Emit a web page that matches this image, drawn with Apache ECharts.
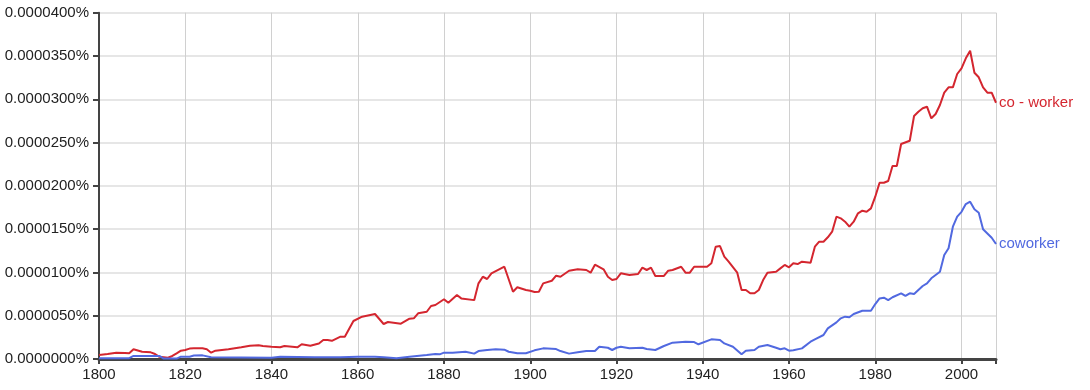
<!DOCTYPE html>
<html><head><meta charset="utf-8">
<script src="https://cdn.jsdelivr.net/npm/echarts@6/dist/echarts.min.js"></script>
<style>html,body{margin:0;padding:0;background:#fff}#c{width:1090px;height:390px}</style>
</head><body><div id="c"></div>
<script>
// values in units of 0.0000001 %
const coDashYears = [1800,1802,1804,1806,1807,1808,1810,1812,1813,1814,1816,1817,1818,1819,1820,1821,1822,1824,1825,1826,1827,1830,1833,1835,1837,1838,1840,1842,1843,1846,1847,1849,1851,1852,1853,1854,1856,1857,1859,1861,1864,1866,1867,1870,1872,1873,1874,1876,1877,1878,1880,1881,1883,1884,1887,1888,1889,1890,1891,1894,1896,1897,1899,1900,1901,1902,1903,1905,1906,1907,1909,1911,1913,1914,1915,1917,1918,1919,1920,1921,1923,1925,1926,1927,1928,1929,1931,1932,1933,1935,1936,1937,1938,1941,1942,1943,1944,1945,1946,1948,1949,1950,1951,1952,1953,1954,1955,1957,1958,1959,1960,1961,1962,1963,1965,1966,1967,1968,1969,1970,1971,1972,1973,1974,1975,1976,1977,1978,1979,1980,1981,1982,1983,1984,1985,1986,1988,1989,1990,1991,1992,1993,1994,1995,1996,1997,1998,1999,2000,2001,2002,2003,2004,2005,2006,2007,2008];
const coDashValues = [4.6,5.8,7.3,7,6.6,11.2,8.4,7.7,5.8,2.5,1.5,3.5,6.5,9.6,10.4,12,12.3,12.3,11.2,7.3,9.6,11.2,13.5,15.4,15.8,15,14.2,13.5,15,13.5,17,15.4,18,22,22,21,25.8,25.8,43.9,48.9,52,40.4,42.7,40.8,46.6,47,52.8,54.6,61.2,62.4,69,65,73.9,70,68,87.4,95,92.4,99,106.6,77.7,82.8,79.7,78.9,77.4,77.7,87.4,90.4,96.2,95,102,103.6,102.8,99.7,108.9,103.6,95,91.2,92.4,99,97,98.2,105.5,102.8,105.5,95.9,95.9,102,102.8,106.6,99.7,99.7,106.6,106.6,110.5,129.7,130.5,118.2,112.4,99.7,79.7,79.7,75.9,75.9,79.7,91.2,99.7,100.8,104.7,108.6,105.9,110.5,109.7,112.4,111.2,129.7,135.5,135.5,140.6,147,164.4,162.5,158.6,152.8,158.6,168.3,171.3,170.1,174,187.5,203.6,203.6,205.6,222.9,222.9,248.3,252.1,280.7,285.6,289.6,291.4,278,283,293.4,307.6,313.8,313.8,329.2,335.8,347.3,356,330.7,325.4,313.8,307.6,307.6,296];
const coworkerYears = [1800,1807,1808,1814,1815,1818,1819,1821,1822,1824,1826,1840,1842,1850,1856,1860,1864,1866,1869,1872,1876,1878,1879,1880,1882,1885,1887,1888,1890,1892,1894,1895,1897,1899,1901,1903,1906,1907,1909,1911,1913,1915,1916,1918,1919,1920,1921,1923,1926,1927,1929,1931,1933,1936,1938,1939,1942,1944,1945,1947,1949,1950,1952,1953,1955,1957,1958,1959,1960,1961,1963,1965,1966,1968,1969,1971,1972,1973,1974,1975,1977,1979,1980,1981,1982,1983,1984,1986,1987,1988,1989,1991,1992,1993,1995,1996,1997,1998,1999,2000,2001,2002,2003,2004,2005,2006,2007,2008];
const coworkerValues = [1,1,3.5,3.5,0.5,0.5,2.7,2.7,4,4.2,2,1.5,2.5,2,2,2.7,2.7,2,0.8,2.7,4.6,5.8,5.4,7.3,7.3,8.4,6.2,9.2,10.4,11.2,10.8,8.4,6.6,6.6,10,12.3,11.5,9.2,6.2,7.7,9.2,9.2,14.2,13,10.4,13,14.2,12.3,13,11.5,10.4,15,18.9,20,19.6,17,22.7,22,18,14.2,5.4,9.6,10.4,14.2,16.2,13,11.2,12.3,9.6,10,12.3,20,22.7,27.7,35.4,42.3,47,48.9,48.2,52,55.8,55.8,63.5,70,70.8,68.1,71.3,75.9,72.8,75.9,75.1,84.3,87.4,93.2,100.8,120.1,127.9,152.8,164.4,170,179,181.7,172.9,169,149.8,145,140,132.8];
const seriesNames = ['co - worker', 'coworker'];
const xTicks = [1800,1820,1840,1860,1880,1900,1920,1940,1960,1980,2000];

const FONT = 'Liberation Sans, Arial, sans-serif';
const RED = '#d4262f', BLUE = '#5169e0';
const zip = (xs, ys) => xs.map((x, i) => [x, ys[i]]);

const chart = echarts.init(document.getElementById('c'));
chart.setOption({
  animation: false,
  grid: { left: 99, right: 94, top: 12.7, bottom: 31, containLabel: false },
  xAxis: {
    type: 'value', min: 1800, max: 2008, interval: 20,
    axisLine: { show: true, onZero: false, lineStyle: { color: '#444', width: 3 } },
    axisTick: { show: true, length: 5, lineStyle: { color: '#444', width: 2 } },
    axisLabel: { color: '#222', fontSize: 15, fontFamily: FONT, margin: 8,
      formatter: v => xTicks.includes(v) ? String(v) : '' },
    splitLine: { show: true, lineStyle: { color: '#d0d0d0', width: 1 } }
  },
  yAxis: {
    type: 'value', min: 0, max: 400, interval: 50,
    axisLine: { show: true, lineStyle: { color: '#444', width: 2 } },
    axisTick: { show: true, length: 6, lineStyle: { color: '#444', width: 2 } },
    axisLabel: { color: '#222', fontSize: 15, fontFamily: FONT, margin: 10,
      formatter: v => (v * 1e-7).toFixed(7) + '%' },
    splitLine: { show: true, lineStyle: { color: '#dedede', width: 1.5 } }
  },
  series: [
    { name: seriesNames[0], type: 'line', data: zip(coDashYears, coDashValues),
      showSymbol: false, lineStyle: { color: RED, width: 2 }, itemStyle: { color: RED },
      endLabel: { show: true, formatter: seriesNames[0], color: RED, fontSize: 15, fontFamily: FONT, distance: 3 } },
    { name: seriesNames[1], type: 'line', data: zip(coworkerYears, coworkerValues),
      showSymbol: false, lineStyle: { color: BLUE, width: 2 }, itemStyle: { color: BLUE },
      endLabel: { show: true, formatter: seriesNames[1], color: BLUE, fontSize: 15, fontFamily: FONT, distance: 3 } }
  ]
});
</script></body></html>
